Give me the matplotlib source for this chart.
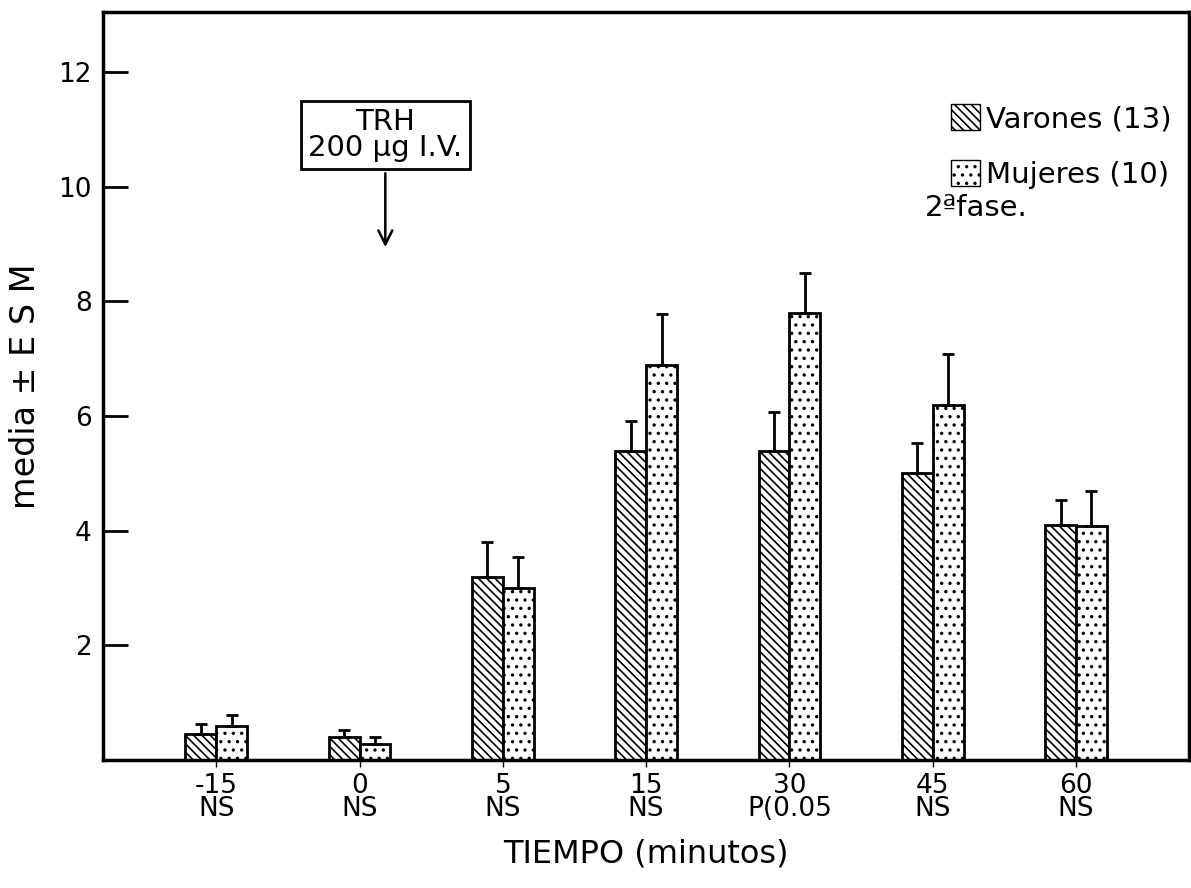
import numpy as np
import matplotlib
matplotlib.use("Agg")
import matplotlib.pyplot as plt
from matplotlib.patches import Patch

plt.rcParams['font.family'] = ['DejaVu Sans']
plt.rcParams['hatch.linewidth'] = 1.2

# data
tiempos = ['-15', '0', '5', '15', '30', '45', '60']
signif = ['NS', 'NS', 'NS', 'NS', 'P(0.05', 'NS', 'NS']
varones = [0.45, 0.40, 3.20, 5.40, 5.40, 5.00, 4.10]
varones_esm = [0.18, 0.12, 0.60, 0.52, 0.67, 0.53, 0.43]
mujeres = [0.60, 0.28, 3.00, 6.90, 7.80, 6.20, 4.08]
mujeres_esm = [0.19, 0.12, 0.54, 0.88, 0.70, 0.88, 0.61]

fig = plt.figure(figsize=(11.91, 8.88), dpi=100)
ax = fig.add_axes([0.0865, 0.144, 0.912, 0.8425])

x = np.arange(len(tiempos))
w = 0.215

ax.bar(x - w / 2, varones, w, facecolor='white', edgecolor='black',
       linewidth=2, hatch='\\\\\\\\', zorder=2)
ax.bar(x + w / 2, mujeres, w, facecolor='white', edgecolor='black',
       linewidth=2, hatch='..', zorder=2)

zeros = np.zeros(len(x))
ax.errorbar(x - w / 2, varones, yerr=[zeros, varones_esm], fmt='none',
            ecolor='black', elinewidth=2, capsize=4, capthick=2, zorder=3)
ax.errorbar(x + w / 2, mujeres, yerr=[zeros, mujeres_esm], fmt='none',
            ecolor='black', elinewidth=2, capsize=4, capthick=2, zorder=3)

ax.set_xlim(-0.79, 6.79)
ax.set_ylim(0, 13.05)
ax.set_yticks([2, 4, 6, 8, 10, 12])
ax.set_yticklabels(['2', '4', '6', '8', '10', '12'])
ax.set_xticks(x)
ax.set_xticklabels([t + '\n' + s for t, s in zip(tiempos, signif)],
                   linespacing=0.85)

ax.tick_params(axis='y', direction='in', length=18, width=2,
               labelsize=19, pad=8)
ax.tick_params(axis='x', direction='out', length=5, width=1,
               labelsize=19, pad=4)

for s in ax.spines.values():
    s.set_linewidth(2.5)

ax.set_xlabel('TIEMPO (minutos)', fontsize=23, labelpad=12)
ax.set_ylabel('media ± E S M', fontsize=24, labelpad=12)

# TRH annotation
ax.annotate('TRH\n200 µg I.V.', xy=(1.18, 8.9), xytext=(1.18, 10.9),
            ha='center', va='center', fontsize=21, linespacing=0.9,
            bbox=dict(boxstyle='square,pad=0.25', facecolor='white',
                      edgecolor='black', linewidth=2),
            arrowprops=dict(arrowstyle='->', color='black', lw=1.8,
                            mutation_scale=25))

handles = [Patch(facecolor='white', edgecolor='black', hatch='\\\\\\\\'),
           Patch(facecolor='white', edgecolor='black', hatch='..')]
ax.legend(handles, ['Varones (13)', 'Mujeres (10)'],
          loc='upper right', bbox_to_anchor=(1.0, 0.9), frameon=False,
          fontsize=21, handlelength=1.0, handleheight=1.0,
          handletextpad=0.2, labelspacing=0.9, borderaxespad=0.2)
ax.text(0.757, 0.738, '2ªfase.', transform=ax.transAxes, fontsize=21,
        ha='left', va='center')

fig.savefig('out.png', dpi=100)
